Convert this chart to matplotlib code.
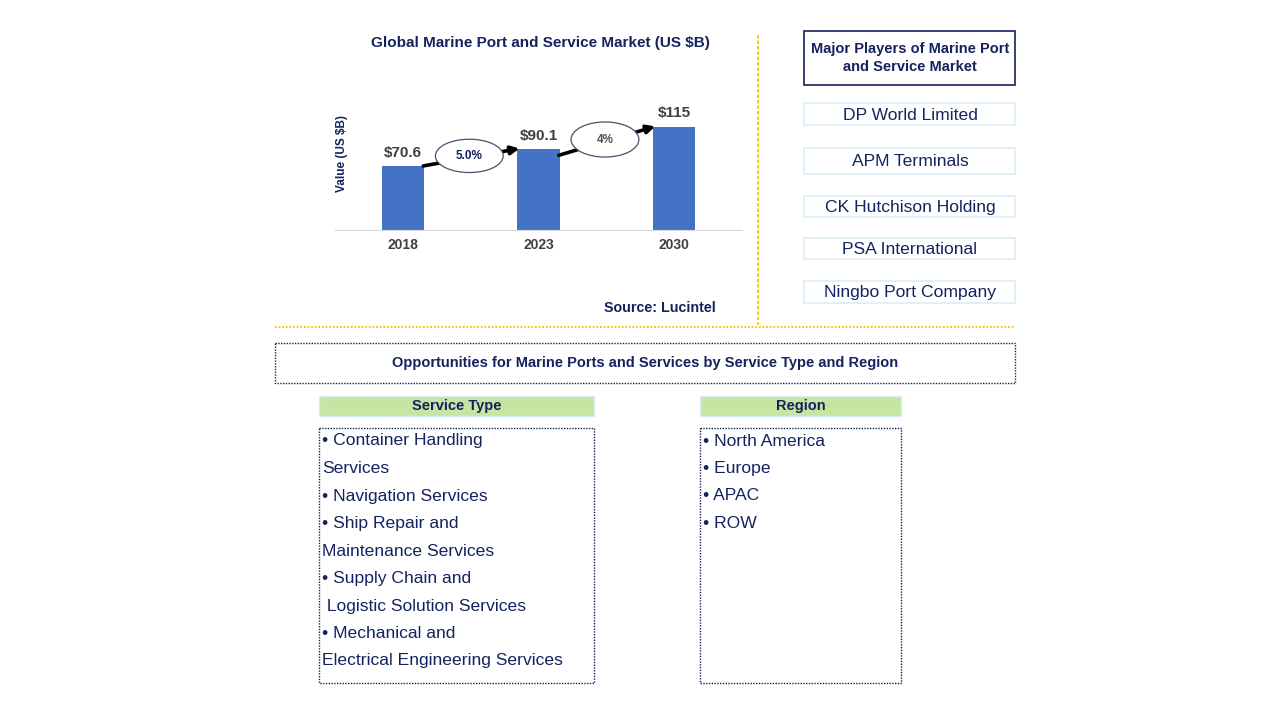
import matplotlib
matplotlib.use("Agg")
import matplotlib.pyplot as plt
from matplotlib.patches import Rectangle, Ellipse

plt.rcParams['font.family'] = ['Liberation Sans', 'DejaVu Sans']

# data
years = ["2018", "2023", "2030"]
values = [70.6, 90.1, 115]
value_labels = ["$70.6", "$90.1", "$115"]
cagr_labels = ["5.0%", "4%"]
players = ["DP World Limited", "APM Terminals", "CK Hutchison Holding",
           "PSA International", "Ningbo Port Company"]
service_lines = ["\u2022 Container Handling", "Services", "\u2022 Navigation Services",
                 "\u2022 Ship Repair and", "Maintenance Services", "\u2022 Supply Chain and",
                 " Logistic Solution Services", "\u2022 Mechanical and",
                 "Electrical Engineering Services"]
region_lines = ["\u2022 North America", "\u2022 Europe", "\u2022 APAC", "\u2022 ROW"]

navy = "#14235F"
bar_color = "#4472C4"
gold = "#FFC000"

fig = plt.figure(figsize=(12.8, 7.2), dpi=100)

# overlay axes in pixel coords (y down)
ov = fig.add_axes([0, 0, 1, 1])
ov.set_xlim(0, 1280)
ov.set_ylim(720, 0)
ov.axis("off")

# ---- bar chart
ax = fig.add_axes([335 / 1280, 1 - 230 / 720, 407 / 1280, 126 / 720])
x = list(range(len(years)))
ax.bar(x, values, width=0.31, color=bar_color, zorder=2)
ax.set_xlim(-0.5, 2.5)
ax.set_ylim(0, 140)
for s in ["top", "right", "left"]:
    ax.spines[s].set_visible(False)
ax.spines["bottom"].set_color("#D9D9D9")
ax.set_yticks([])
ax.set_xticks(x)
ax.set_xticklabels(years, fontsize=10, fontweight="bold", color="#404040")
ax.tick_params(axis="x", length=0, pad=6)
ax.set_ylabel("Value (US $B)", fontsize=8.5, fontweight="bold", color=navy)
ax.yaxis.set_label_coords(0.032, 0.61)
ax.patch.set_alpha(0)

for xi, v, lab in zip(x, values, value_labels):
    ax.text(xi, v + 7, lab, ha="center", va="bottom", fontsize=11,
            fontweight="bold", color="#404040")

# arrows + CAGR ellipses
for i, lab in enumerate(cagr_labels):
    x0, y0 = i + 0.13, values[i] - (0 if i == 0 else 8)
    x1, y1 = i + 1 - 0.12, values[i + 1] + 1
    ax.annotate("", xy=(x1, y1), xytext=(x0, y0),
                arrowprops=dict(arrowstyle="-|>", color="black", lw=2.6,
                                mutation_scale=12), zorder=3)
    cx = i + 0.49
    cy = (values[i] + values[i + 1]) / 2 + (2 if i == 0 else -2)
    ax.add_patch(Ellipse((cx, cy), 0.5, 37 if i == 0 else 39, facecolor="white",
                         edgecolor="#44546A", lw=0.9, zorder=4))
    ax.text(cx, cy, lab, ha="center", va="center", fontsize=8.5,
            fontweight="bold", color=navy if i == 0 else "#505050", zorder=5)

ov.text(540, 43, "Global Marine Port and Service Market (US $B)", ha="center",
        va="center", fontsize=11, fontweight="bold", color=navy)
ov.text(716, 308, "Source: Lucintel", ha="right", va="center", fontsize=10.3,
        fontweight="bold", color=navy)

# separators
ov.plot([758, 758], [35, 325], color=gold, lw=1.3, ls=(0, (2, 1)))
ov.plot([275, 1015], [327, 327], color=gold, lw=1.3, ls=(0, (1, 1)))

# ---- major players
ov.add_patch(Rectangle((804, 31), 211, 54, facecolor="white", edgecolor=navy, lw=1.2))
ov.text(910, 58, "Major Players of Marine Port\nand Service Market", ha="center",
        va="center", fontsize=10.5, fontweight="bold", color=navy, linespacing=1.4)
box_tops = [103, 148, 196, 238, 281]
box_h = [22, 26, 21, 21, 22]
for name, top, h in zip(players, box_tops, box_h):
    ov.add_patch(Rectangle((804, top), 211, h, facecolor="white",
                           edgecolor="#DAEEF7", lw=1.2))
    ov.text(910, top + h / 2 + 1, name, ha="center", va="center", fontsize=12.6,
            color=navy)

# ---- opportunities
ov.add_patch(Rectangle((275, 343), 740, 40, facecolor="white", edgecolor=navy,
                       lw=1, ls=(0, (1, 1))))
ov.text(645, 363, "Opportunities for Marine Ports and Services by Service Type and Region",
        ha="center", va="center", fontsize=10.5, fontweight="bold", color=navy)

for left, width, title, lines in [(319, 275, "Service Type", service_lines),
                                  (700, 201, "Region", region_lines)]:
    ov.add_patch(Rectangle((left, 396), width, 20, facecolor="#C6E5A3",
                           edgecolor="#D6EEF7", lw=1))
    ov.text(left + width / 2, 406, title, ha="center", va="center", fontsize=10.5,
            fontweight="bold", color=navy)
    ov.add_patch(Rectangle((left, 428), width, 255, facecolor="white", edgecolor=navy,
                           lw=1, ls=(0, (1, 1))))
    for k, line in enumerate(lines):
        ov.text(left + 3, 441 + k * 27.5, line, ha="left", va="center", fontsize=12.6,
                color=navy)

fig.savefig("out.png", dpi=100)
